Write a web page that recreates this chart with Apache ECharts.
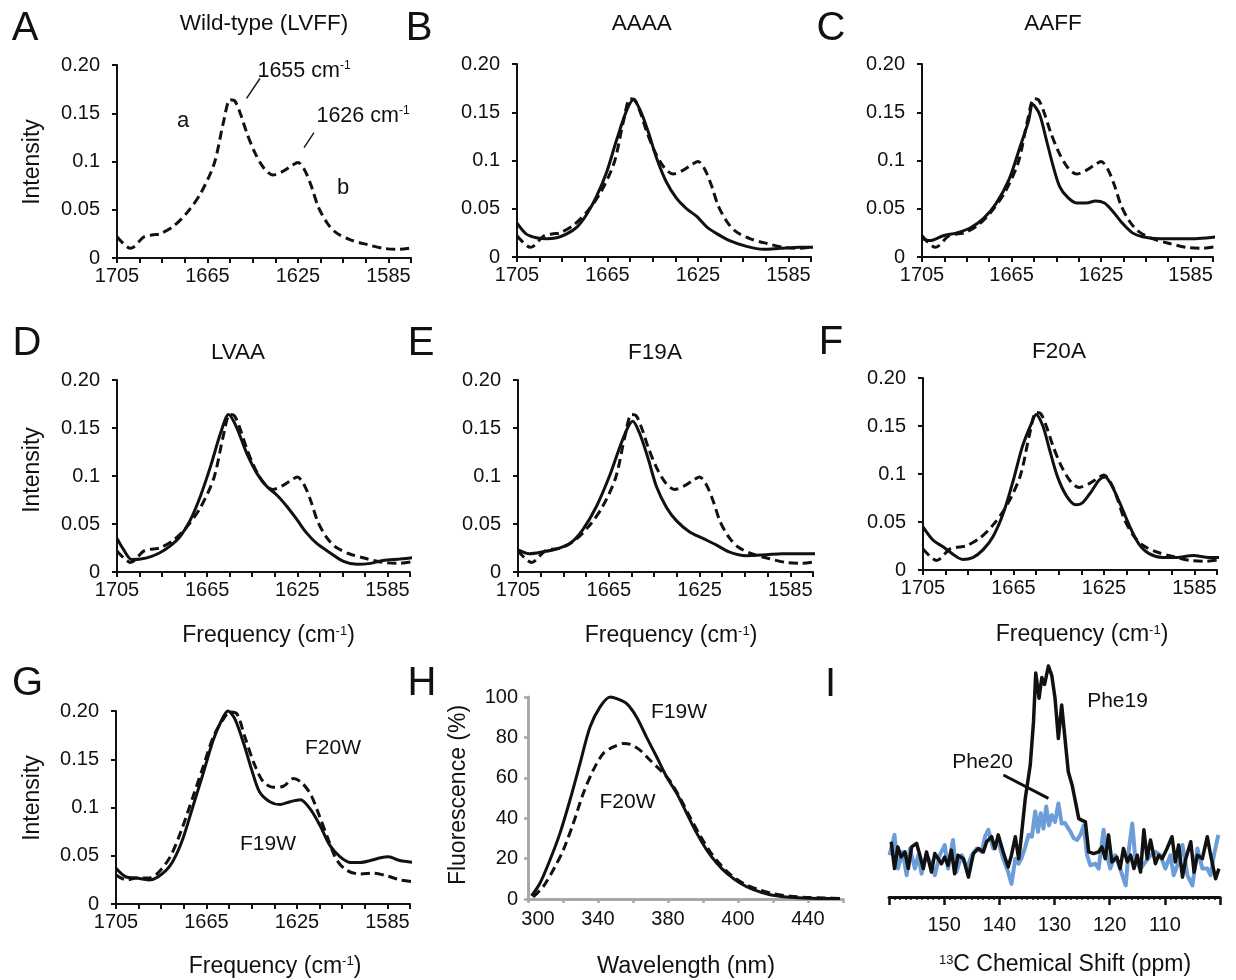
<!DOCTYPE html>
<html><head><meta charset="utf-8">
<script src="https://cdn.jsdelivr.net/npm/echarts@6/dist/echarts.min.js"></script>
<style>html,body{margin:0;padding:0;background:#fff}#chart{width:1236px;height:980px}</style>
</head><body><div id="chart"></div>
<script>
// ---------------- DATA ----------------
// IR spectra: wavenumber (cm-1) and intensity
const IR_X_LABELS = [1705, 1665, 1625, 1585];
const IR_Y_LABELS = ['0', '0.05', '0.1', '0.15', '0.20'];

// Wild-type (LVFF), dashed reference in A-F
const WT_WN = [1705, 1699, 1693, 1689, 1686, 1680, 1674, 1668, 1662, 1658, 1655, 1653, 1650.5, 1647.5, 1644, 1640, 1636, 1631.5, 1627.5, 1625, 1622, 1619, 1616, 1612, 1608, 1602, 1594.5, 1587, 1580, 1573.5];
const WT_I  = [0.022, 0.010, 0.022, 0.024, 0.025, 0.033, 0.047, 0.067, 0.098, 0.140, 0.164, 0.163, 0.150, 0.129, 0.109, 0.093, 0.086, 0.090, 0.096, 0.099, 0.091, 0.074, 0.053, 0.036, 0.026, 0.019, 0.014, 0.010, 0.009, 0.011];

const AAAA_WN = [1705, 1701, 1696.5, 1692, 1687.5, 1683, 1678.5, 1674.5, 1670, 1665.5, 1661, 1656.5, 1653.5, 1650.5, 1647, 1643.5, 1639, 1634.5, 1630, 1625.5, 1621, 1616.5, 1611, 1603.5, 1596, 1588.5, 1580, 1573];
const AAAA_I  = [0.035, 0.024, 0.020, 0.019, 0.020, 0.024, 0.031, 0.043, 0.062, 0.087, 0.121, 0.152, 0.163, 0.152, 0.130, 0.104, 0.078, 0.061, 0.050, 0.042, 0.031, 0.024, 0.017, 0.011, 0.008, 0.009, 0.010, 0.010];

const AAFF_WN = [1705, 1701.5, 1695.5, 1689.5, 1683.5, 1677.5, 1672, 1666, 1661.5, 1657.5, 1655.5, 1652.5, 1649.5, 1646.5, 1643.5, 1640, 1636, 1631.5, 1627.5, 1623.5, 1620, 1615.5, 1611, 1606.5, 1599, 1591.5, 1584, 1577, 1573];
const AAFF_I  = [0.019, 0.017, 0.022, 0.025, 0.030, 0.040, 0.055, 0.081, 0.112, 0.140, 0.158, 0.148, 0.122, 0.095, 0.073, 0.062, 0.056, 0.056, 0.058, 0.056, 0.048, 0.035, 0.025, 0.021, 0.019, 0.019, 0.019, 0.020, 0.021];

const LVAA_WN = [1705, 1702, 1698.5, 1694.5, 1690, 1686, 1681.5, 1677, 1672.5, 1668, 1663.5, 1659, 1655.5, 1652, 1647.5, 1643, 1638.5, 1634, 1629.5, 1625, 1621, 1616.5, 1610.5, 1604.5, 1598.5, 1592.5, 1587, 1579.5, 1573];
const LVAA_I  = [0.035, 0.023, 0.013, 0.0135, 0.016, 0.020, 0.027, 0.037, 0.054, 0.079, 0.110, 0.145, 0.164, 0.151, 0.124, 0.103, 0.089, 0.080, 0.068, 0.054, 0.041, 0.030, 0.020, 0.011, 0.008, 0.009, 0.012, 0.0135, 0.015];

const F19A_WN = [1705, 1700, 1694, 1688, 1682, 1676.5, 1670.5, 1664.5, 1660, 1656.5, 1654.5, 1651.5, 1647.5, 1644, 1639.5, 1635, 1629.5, 1623.5, 1617.5, 1612, 1604.5, 1595.5, 1588.5, 1581, 1573];
const F19A_I  = [0.023, 0.019, 0.021, 0.024, 0.030, 0.044, 0.068, 0.101, 0.131, 0.151, 0.157, 0.145, 0.117, 0.089, 0.067, 0.053, 0.042, 0.035, 0.028, 0.021, 0.017, 0.018, 0.019, 0.019, 0.019];

const F20A_WN = [1705, 1700.5, 1696, 1691.5, 1687.5, 1683, 1678.5, 1674, 1669.5, 1665, 1661, 1657, 1655, 1652, 1649, 1645.5, 1641.5, 1637.5, 1634.5, 1630.5, 1627, 1624.5, 1622, 1618, 1613.5, 1609.5, 1605, 1599, 1593, 1585.5, 1578.5, 1573];
const F20A_I  = [0.045, 0.031, 0.024, 0.016, 0.011, 0.013, 0.021, 0.035, 0.059, 0.094, 0.129, 0.153, 0.162, 0.150, 0.125, 0.097, 0.077, 0.068, 0.070, 0.082, 0.094, 0.097, 0.090, 0.070, 0.045, 0.027, 0.017, 0.013, 0.013, 0.015, 0.013, 0.013];

const F19W_WN = [1705, 1700.5, 1696, 1690.5, 1686.5, 1681, 1676, 1671, 1666.5, 1662, 1658, 1655.5, 1652.5, 1648.5, 1645, 1641.5, 1637, 1632.5, 1628, 1623.5, 1619, 1614.5, 1610.5, 1606, 1601.5, 1597, 1592.5, 1588, 1584.5, 1579.5, 1573];
const F19W_I  = [0.037, 0.028, 0.027, 0.025, 0.028, 0.040, 0.064, 0.101, 0.135, 0.170, 0.192, 0.200, 0.192, 0.166, 0.139, 0.116, 0.106, 0.103, 0.106, 0.108, 0.098, 0.080, 0.061, 0.049, 0.043, 0.043, 0.045, 0.048, 0.049, 0.045, 0.043];

const F20W_WN = [1705, 1700.5, 1696, 1690.5, 1686.5, 1681, 1676, 1671, 1666.5, 1662, 1658, 1654.5, 1651.5, 1648, 1644, 1640, 1635.5, 1631, 1626.5, 1623, 1619, 1615.5, 1611, 1607.5, 1603, 1597, 1591, 1585, 1579.5, 1573];
const F20W_I  = [0.030, 0.025, 0.027, 0.027, 0.032, 0.049, 0.077, 0.111, 0.142, 0.173, 0.190, 0.199, 0.197, 0.173, 0.146, 0.127, 0.121, 0.122, 0.130, 0.126, 0.114, 0.094, 0.066, 0.046, 0.035, 0.031, 0.032, 0.029, 0.025, 0.023];

// Fluorescence (panel H)
const H_X_LABELS = ['300', '', '340', '', '380', '', '400', '', '440', ''];
const H_F19W_NM = [302, 306.9, 312.6, 318.3, 324, 329.7, 335.4, 341.1, 347, 350.7, 356.4, 362.1, 367.8, 373.5, 379.2, 385, 390.7, 396.4, 402.1, 407.8, 413.5, 421.1, 428.8, 438.3, 447.8, 457.3, 466.9, 478.3];
const H_F19W    = [1.5, 7.9, 19.4, 32.6, 49, 67, 85, 95, 100, 99.2, 96.7, 90, 80, 70.4, 60.5, 52.3, 42.4, 32.6, 24.3, 17.8, 12.8, 7.9, 4.6, 2.1, 1, 0.5, 0.3, 0.2];
const H_F20W_NM = [303, 308.8, 314.5, 320.2, 325.9, 331.6, 337.3, 343, 348.8, 354.5, 358.3, 364, 369.7, 375.4, 381.1, 386.9, 392.6, 398.3, 404, 409.7, 415.4, 423, 430.7, 440.2, 449.7, 459.2, 470.7, 478.3];
const H_F20W    = [1, 6.3, 14.5, 24.3, 37.5, 52.3, 63.8, 72, 75.3, 77, 76.6, 73.7, 68.8, 64, 58.5, 50, 40.5, 31.5, 23.5, 17.3, 12.3, 7.8, 4.9, 2.6, 1.4, 0.8, 0.5, 0.3];

// 13C NMR (panel I), arbitrary intensity units
const I_PHE19_PPM = [159.6, 159.0, 158.4, 157.8, 157.1, 156.5, 155.9, 155.0, 154.4, 153.8, 153.2, 152.3, 151.7, 151.1, 150.5, 149.9, 149.3, 148.7, 148.1, 147.5, 146.5, 145.6, 144.7, 143.8, 142.9, 142.3, 141.4, 140.8, 140.2, 139.3, 138.4, 137.8, 137.1, 136.5, 136.2, 135.3, 134.4, 133.8, 133.4, 132.8, 132.3, 131.8, 131.1, 130.5, 129.9, 129.3, 128.7, 128.1, 127.5, 126.8, 126.2, 125.6, 125.0, 124.4, 123.8, 122.9, 122.0, 121.4, 120.8, 120.2, 119.6, 118.7, 118.1, 117.5, 116.8, 116.2, 115.6, 115.0, 114.4, 113.8, 113.2, 112.6, 111.7, 111.1, 110.5, 109.6, 108.7, 108.1, 107.5, 106.8, 106.2, 105.3, 104.7, 104.1, 103.2, 102.3, 101.7, 100.8, 100.2];
const I_PHE19     = [23.9, 12.3, 21.7, 17.3, 19.5, 12.3, 21.7, 23.2, 18.1, 12.3, 19.5, 10.8, 18.8, 16.6, 14.4, 17.3, 13.7, 20.3, 10.1, 18.1, 16.6, 8.6, 18.8, 21, 19.5, 23.9, 26.1, 21, 26.9, 19.5, 13, 18.1, 26.1, 16.6, 22, 42.6, 57, 76, 97, 86, 95, 92, 100, 96, 86, 68.6, 83.1, 68.6, 54.2, 48.4, 41.2, 33.9, 33.2, 32.5, 19.5, 18.8, 19.5, 21.7, 16.6, 26.9, 15.2, 17.3, 12.3, 21, 15.2, 18.1, 12.3, 18.1, 10.8, 29.1, 16.6, 24.7, 14.4, 18.1, 16.6, 21, 26.1, 15.2, 22.5, 8.6, 16.6, 23.9, 10.8, 18.1, 16.6, 26.1, 18.1, 7.9, 12.3];
const I_PHE20_PPM = [159.9, 159.0, 158.4, 157.5, 156.8, 156.2, 155.3, 154.7, 154.1, 153.2, 152.3, 151.7, 150.8, 149.9, 149.3, 148.4, 147.8, 146.8, 145.9, 145.0, 144.1, 143.2, 142.6, 142.0, 141.1, 140.2, 139.3, 138.4, 137.8, 137.1, 136.5, 135.9, 135.3, 134.7, 134.1, 133.5, 133.0, 132.5, 132.0, 131.5, 131.0, 130.5, 129.9, 129.3, 128.7, 128.1, 127.1, 126.5, 125.9, 125.3, 124.7, 124.1, 123.5, 122.6, 122.0, 121.1, 120.5, 119.9, 119.0, 118.1, 117.1, 116.5, 115.9, 115.3, 114.4, 113.5, 112.6, 111.7, 110.8, 109.9, 109.0, 108.4, 107.5, 106.8, 105.9, 105.0, 104.1, 103.2, 102.3, 101.7, 101.1, 100.3];
const I_PHE20     = [18.1, 26.9, 12.3, 19.5, 9.4, 21, 12.3, 18.1, 10.1, 18.1, 14.4, 9.4, 18.1, 22.5, 12.3, 24.7, 10.8, 18.1, 12.3, 18.1, 21, 19.5, 26.1, 29.1, 21, 23.9, 16.6, 10.8, 5.7, 16.6, 14.4, 17.3, 21.7, 26.9, 26.1, 37, 28.2, 36.3, 29.6, 39.2, 31, 35.5, 32.5, 40.5, 31.8, 32, 28.2, 25.4, 24.7, 26.9, 31, 18.1, 13.7, 14.4, 12.3, 29.1, 18.1, 12.3, 18.1, 12.3, 5, 21, 31.8, 15.2, 12.3, 15.2, 18.1, 19.5, 18.1, 12.3, 18.1, 9.4, 15.2, 22.5, 9.4, 5, 21, 12.3, 12.3, 9.4, 18.1, 26.9];

// ---------------- BUILD ----------------
const FONT = '"Liberation Sans", Arial, Helvetica, sans-serif';
const INK = '#111111';
const GRAY = '#a8a8a8';
const BLUE = '#6c9dd8';
const DASH = [9, 5];
const pairs = (xs, ys) => xs.map((x, i) => [x, ys[i]]);

const irPanels = [
  { grid: { left: 117, top: 65,  width: 294, height: 193 }, solid: null, dashed: [WT_WN, WT_I] },
  { grid: { left: 517, top: 64,  width: 294, height: 193 }, solid: [AAAA_WN, AAAA_I], dashed: [WT_WN, WT_I] },
  { grid: { left: 922, top: 64,  width: 291, height: 193 }, solid: [AAFF_WN, AAFF_I], dashed: [WT_WN, WT_I] },
  { grid: { left: 117, top: 380, width: 293, height: 192 }, solid: [LVAA_WN, LVAA_I], dashed: [WT_WN, WT_I] },
  { grid: { left: 518, top: 380, width: 295, height: 192 }, solid: [F19A_WN, F19A_I], dashed: [WT_WN, WT_I] },
  { grid: { left: 923, top: 378, width: 294, height: 192 }, solid: [F20A_WN, F20A_I], dashed: [WT_WN, WT_I] },
  { grid: { left: 116, top: 711, width: 294, height: 193 }, solid: [F19W_WN, F19W_I], dashed: [F20W_WN, F20W_I] }
];

const grids = [], xAxes = [], yAxes = [], series = [];
const axisLineK = { show: true, onZero: false, lineStyle: { color: INK, width: 2 } };
const tickK = { show: true, length: 5, lineStyle: { color: INK, width: 2 } };

irPanels.forEach((p, i) => {
  grids.push(Object.assign({ outerBoundsMode: 'none', containLabel: false }, p.grid));
  xAxes.push({
    gridIndex: i, type: 'value', inverse: true, min: 1575, max: 1705, interval: 10,
    axisLine: axisLineK, axisTick: tickK, splitLine: { show: false },
    axisLabel: { margin: 8, fontSize: 20, fontFamily: FONT, color: INK,
      formatter: v => IR_X_LABELS.indexOf(Math.round(v)) >= 0 ? String(Math.round(v)) : '' }
  });
  yAxes.push({
    gridIndex: i, type: 'value', min: 0, max: 0.2, interval: 0.05,
    axisLine: axisLineK, axisTick: tickK, splitLine: { show: false },
    axisLabel: { margin: 17, fontSize: 20, fontFamily: FONT, color: INK,
      formatter: v => IR_Y_LABELS[Math.round(v / 0.05)] }
  });
  const common = { type: 'line', xAxisIndex: i, yAxisIndex: i, symbol: 'none', smooth: 0.3, clip: false, silent: true, animation: false };
  const dashedS = Object.assign({}, common, { data: pairs(p.dashed[0], p.dashed[1]), lineStyle: { color: INK, width: 3, type: DASH } });
  if (i === 0) {
    dashedS.markLine = {
      silent: true, symbol: ['none', 'none'], animation: false, label: { show: false },
      lineStyle: { type: 'solid', color: INK, width: 1.4 },
      data: [
        [{ coord: [1647.7, 0.1655] }, { coord: [1641.8, 0.186] }],
        [{ coord: [1622.3, 0.1143] }, { coord: [1617.9, 0.130] }]
      ]
    };
  }
  series.push(dashedS);
  if (p.solid) {
    series.push(Object.assign({}, common, { data: pairs(p.solid[0], p.solid[1]), lineStyle: { color: INK, width: 3, type: 'solid' } }));
  }
});

// Panel H
const hi = grids.length;
grids.push({ left: 528, top: 697, width: 315, height: 202, outerBoundsMode: 'none', containLabel: false });
const grayLine = { show: true, onZero: false, lineStyle: { color: GRAY, width: 3 } };
const grayTick = { show: true, length: 4, lineStyle: { color: GRAY, width: 2.5 } };
xAxes.push({
  gridIndex: hi, type: 'value', min: 300, max: 480, interval: 20,
  axisLine: grayLine, axisTick: grayTick, splitLine: { show: false },
  axisLabel: { margin: 10, fontSize: 20, fontFamily: FONT, color: INK,
    formatter: v => { const s = H_X_LABELS[Math.round((v - 300) / 20)] || ''; return v === 300 ? '{f|' + s + '}' : s; },
    rich: { f: { fontSize: 20, fontFamily: FONT, color: INK, padding: [0, 0, 0, 20] } } }
});
yAxes.push({
  gridIndex: hi, type: 'value', min: 0, max: 100, interval: 20,
  axisLine: grayLine, axisTick: grayTick, splitLine: { show: false },
  axisLabel: { margin: 10, fontSize: 20, fontFamily: FONT, color: INK }
});
const hCommon = { type: 'line', xAxisIndex: hi, yAxisIndex: hi, symbol: 'none', smooth: 0.3, clip: false, silent: true, animation: false };
series.push(Object.assign({}, hCommon, { data: pairs(H_F20W_NM, H_F20W), lineStyle: { color: INK, width: 3, type: DASH } }));
series.push(Object.assign({}, hCommon, { data: pairs(H_F19W_NM, H_F19W), lineStyle: { color: INK, width: 3, type: 'solid' } }));

// Panel I
const ii = grids.length;
grids.push({ left: 889, top: 666, width: 331, height: 231, outerBoundsMode: 'none', containLabel: false });
xAxes.push({
  gridIndex: ii, type: 'value', inverse: true, min: 100, max: 160, interval: 10,
  axisLine: { show: true, onZero: false, lineStyle: { color: INK, width: 3 } },
  axisTick: { show: true, length: 8, lineStyle: { color: INK, width: 2.5 } },
  minorTick: { show: true, splitNumber: 10, length: 3, lineStyle: { color: INK, width: 1.5 } },
  splitLine: { show: false }, minorSplitLine: { show: false },
  axisLabel: { margin: 18, fontSize: 20, fontFamily: FONT, color: INK,
    formatter: v => (v === 100 || v === 160) ? '' : String(v) }
});
yAxes.push({ gridIndex: ii, type: 'value', min: 0, max: 100, show: false, splitLine: { show: false } });
const iCommon = { type: 'line', xAxisIndex: ii, yAxisIndex: ii, symbol: 'none', smooth: false, clip: false, silent: true, animation: false };
series.push(Object.assign({}, iCommon, { data: pairs(I_PHE20_PPM, I_PHE20), lineStyle: { color: BLUE, width: 4, join: 'round' } }));
series.push(Object.assign({}, iCommon, {
  data: pairs(I_PHE19_PPM, I_PHE19), lineStyle: { color: INK, width: 3.5, join: 'round' },
  markLine: {
    silent: true, symbol: ['none', 'none'], animation: false, label: { show: false },
    lineStyle: { type: 'solid', color: INK, width: 3 },
    data: [[{ coord: [139.27, 52.8] }, { coord: [131.1, 42.7] }]]
  }
}));

// ---------------- TEXT ----------------
function txt(x, y, text, size, extra) {
  return Object.assign({ type: 'text', x: x, y: y, silent: true, z: 10,
    style: { text: text, fontSize: size, fontFamily: FONT, fill: INK,
      align: 'center', textAlign: 'center', verticalAlign: 'middle', textVerticalAlign: 'middle' } }, extra || {});
}
function supTxt(x, y, text, size, supSize, extra) {
  const el = txt(x, y, text, size, extra);
  el.style.rich = {
    a: { fontSize: size, fontFamily: FONT, fill: INK },
    s: { fontSize: supSize, fontFamily: FONT, fill: INK, verticalAlign: 'top' }
  };
  return el;
}
const ROT = { rotation: Math.PI / 2 };
const freqName = '{a|Frequency (cm}{s|-1}{a|)}';
const graphics = [
  // panel letters
  txt(25, 29, 'A', 40), txt(419, 29, 'B', 40), txt(831, 29, 'C', 40),
  txt(27, 344, 'D', 40), txt(421, 344, 'E', 40), txt(831, 343, 'F', 40),
  txt(27.5, 684, 'G', 40), txt(422, 684, 'H', 40), txt(830.5, 685, 'I', 40),
  // titles
  txt(264, 23.5, 'Wild-type (LVFF)', 22.5), txt(641.7, 23.5, 'AAAA', 22.5), txt(1053, 24, 'AAFF', 22.5),
  txt(238, 353, 'LVAA', 22.5), txt(655, 353, 'F19A', 22.5), txt(1059, 352, 'F20A', 22.5),
  // axis names
  txt(33, 162, 'Intensity', 23, ROT), txt(32.5, 470, 'Intensity', 23, ROT), txt(32.5, 798, 'Intensity', 23, ROT),
  txt(459, 795, 'Fluorescence (%)', 23, ROT),
  supTxt(268.5, 636, freqName, 23, 13), supTxt(671, 636, freqName, 23, 13), supTxt(1082, 635, freqName, 23, 13),
  supTxt(275, 966.5, freqName, 23, 13),
  txt(686, 966.5, 'Wavelength (nm)', 23.5),
  supTxt(1065, 965, '{s|13}{a|C Chemical Shift (ppm)}', 23, 13),
  // annotations
  supTxt(304, 71, '{a|1655 cm}{s|-1}', 21.5, 12), supTxt(363, 116, '{a|1626 cm}{s|-1}', 21.5, 12),
  txt(183, 121, 'a', 22), txt(343, 188, 'b', 22),
  txt(333, 748, 'F20W', 21), txt(268, 844, 'F19W', 21),
  txt(679, 712.5, 'F19W', 21), txt(627.5, 802.5, 'F20W', 21),
  txt(1117.5, 701, 'Phe19', 21), txt(982.5, 762.5, 'Phe20', 21)
];

const chart = echarts.init(document.getElementById('chart'), null, { renderer: 'canvas' });
chart.setOption({
  backgroundColor: '#ffffff',
  animation: false,
  textStyle: { fontFamily: FONT },
  grid: grids, xAxis: xAxes, yAxis: yAxes, series: series,
  graphic: { elements: graphics }
});
</script></body></html>
